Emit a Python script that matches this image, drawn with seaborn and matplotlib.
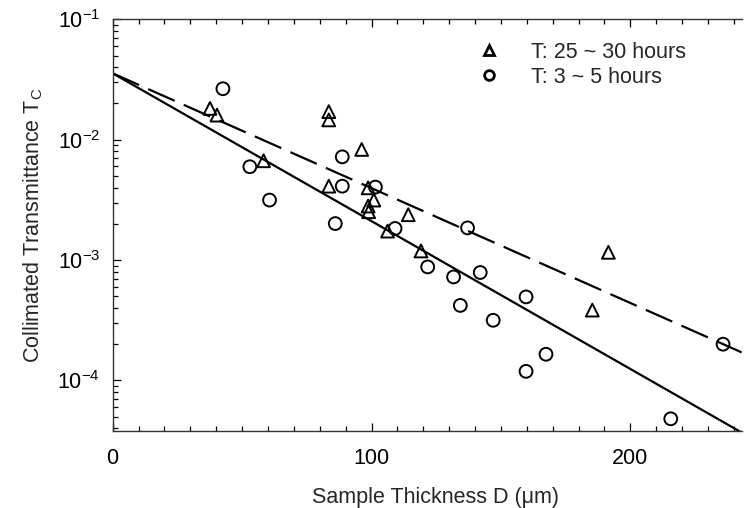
import matplotlib
matplotlib.use("Agg")
import matplotlib.pyplot as plt
import numpy as np
import pandas as pd
import seaborn as sns
from matplotlib.lines import Line2D
from matplotlib.ticker import MultipleLocator, LogLocator

# Data
LONG_LABEL = "T: 25 ~ 30 hours"
SHORT_LABEL = "T: 3 ~ 5 hours"

long_thickness = [37.6, 40.3, 58.3, 83.5, 83.5, 83.5, 96.2, 98.7, 100.9,
                  98.7, 98.9, 106.2, 114.2, 119.1, 185.3, 191.5]
long_trans = [0.0182, 0.0160, 0.00668, 0.0171, 0.0146, 0.00411, 0.0083, 0.00398, 0.00315,
              0.00281, 0.00252, 0.00174, 0.00238, 0.00119, 0.000384, 0.00116]

short_thickness = [42.6, 53.0, 60.6, 86.0, 88.7, 88.7, 101.5, 109.1, 121.7, 131.7,
                   134.3, 137.1, 142.0, 147.0, 159.7, 159.7, 167.4, 215.6, 235.8]
short_trans = [0.0265, 0.00596, 0.00315, 0.00201, 0.0072, 0.00411, 0.00404, 0.00183,
               0.000877, 0.000724, 0.000420, 0.00185, 0.000788, 0.000316, 0.000494,
               0.000119, 0.000165, 4.8e-5, 0.000200]

# Fit line end points (straight on a log axis)
fit_thickness = [0, 243]
fit_solid = [0.0356, 3.69e-5]
fit_dashed = [0.0356, 1.71e-4]

FONT_SIZE = 15.5


def build_frames():
    points = pd.concat([
        pd.DataFrame({"D": long_thickness, "T": long_trans, "group": LONG_LABEL}),
        pd.DataFrame({"D": short_thickness, "T": short_trans, "group": SHORT_LABEL}),
    ])
    fits = pd.DataFrame({"D": fit_thickness, "solid": fit_solid, "dashed": fit_dashed})
    return points, fits


def plot():
    points, fits = build_frames()

    sns.set_style("ticks")
    plt.rcParams["font.family"] = ["Liberation Sans", "DejaVu Sans"]
    plt.rcParams["mathtext.fontset"] = "custom"
    plt.rcParams["mathtext.rm"] = "Liberation Sans"

    fig = plt.figure(figsize=(7.51, 5.08), dpi=100)
    ax = fig.add_axes([0.150, 0.1516, 0.8376, 0.8104])

    # fitted lines
    sns.lineplot(data=fits, x="D", y="solid", color="black", linewidth=1.6, ax=ax)
    sns.lineplot(data=fits, x="D", y="dashed", color="black", linewidth=1.6,
                 dashes=False, ax=ax)
    ax.lines[-1].set_dashes((13, 4.5))

    # measured points
    sns.scatterplot(data=points[points["group"] == LONG_LABEL], x="D", y="T",
                    marker="^", s=85, facecolor="none", edgecolor="black",
                    linewidth=1.4, ax=ax)
    sns.scatterplot(data=points[points["group"] == SHORT_LABEL], x="D", y="T",
                    marker="o", s=85, facecolor="none", edgecolor="black",
                    linewidth=1.4, ax=ax)

    ax.set_yscale("log")
    ax.set_xlim(0, 243)
    ax.set_ylim(10 ** -4.42, 0.1)
    ax.xaxis.set_major_locator(MultipleLocator(100))
    ax.xaxis.set_minor_locator(MultipleLocator(10))
    ax.yaxis.set_major_locator(LogLocator(base=10))
    ax.yaxis.set_minor_locator(LogLocator(base=10, subs=np.arange(2, 10)))

    ax.tick_params(which="both", direction="in", top=True, right=False, colors="black",
                   labelsize=FONT_SIZE, width=0.9)
    ax.tick_params(which="major", length=6)
    ax.tick_params(which="minor", length=3.5)
    ax.tick_params(axis="x", pad=12)
    ax.tick_params(axis="y", pad=9)
    ax.spines["right"].set_visible(False)
    for side in ["left", "bottom", "top"]:
        ax.spines[side].set_color("#333333")
        ax.spines[side].set_linewidth(1.0)

    ax.set_xlabel("Sample Thickness D (\u03bcm)", fontsize=FONT_SIZE, labelpad=13)
    ax.xaxis.set_label_coords(0.514, -0.135)
    ax.set_ylabel("Collimated Transmittance T$_\\mathregular{C}$", fontsize=FONT_SIZE,
                  labelpad=9)

    handles = [
        Line2D([], [], marker="^", linestyle="none", markerfacecolor="none",
               markeredgecolor="black", markeredgewidth=2, markersize=7),
        Line2D([], [], marker="o", linestyle="none", markerfacecolor="none",
               markeredgecolor="black", markeredgewidth=2, markersize=7),
    ]
    ax.legend(handles, [LONG_LABEL, SHORT_LABEL], loc="upper left",
              bbox_to_anchor=(0.564, 0.946), frameon=False, fontsize=FONT_SIZE,
              borderpad=0, borderaxespad=0, handlelength=2, handletextpad=0.95,
              labelspacing=0.2)

    fig.savefig("out.png", dpi=100)


if __name__ == "__main__":
    plot()
